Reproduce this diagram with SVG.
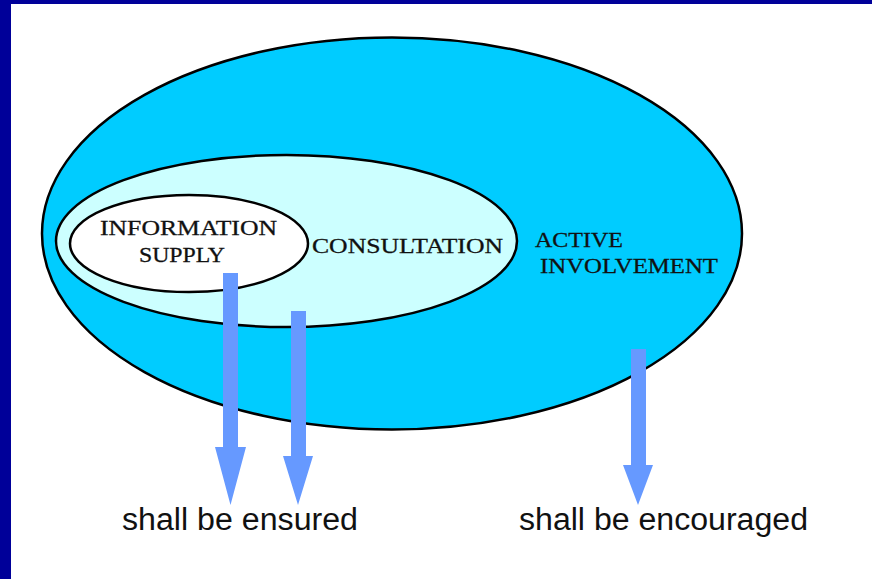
<svg xmlns="http://www.w3.org/2000/svg" width="872" height="579" viewBox="0 0 872 579">
<style>
.ell{stroke:#000;stroke-width:2.5}
.lbl{font-family:"Liberation Serif","Times New Roman",serif;font-size:22px;fill:#111;stroke:#111;stroke-width:0.3}
.cap{font-family:"Liberation Sans",Arial,sans-serif;font-size:31px;fill:#111}
.arr{fill:#6699FF}
</style>
<rect x="0" y="0" width="872" height="579" fill="#fff"/>
<rect x="0" y="0" width="872" height="4" fill="#000099"/>
<rect x="0" y="0" width="11" height="579" fill="#000099"/>
<g id="active-involvement">
<ellipse class="ell" cx="392" cy="233.5" rx="350" ry="196" fill="#00CCFF"/>
<text class="lbl" x="535" y="247" textLength="88" lengthAdjust="spacingAndGlyphs">ACTIVE</text>
<text class="lbl" x="540" y="273" textLength="178" lengthAdjust="spacingAndGlyphs">INVOLVEMENT</text>
</g>
<g id="consultation">
<ellipse class="ell" cx="286.5" cy="241" rx="230.5" ry="86" fill="#CCFFFF"/>
<text class="lbl" x="312" y="253" textLength="191" lengthAdjust="spacingAndGlyphs">CONSULTATION</text>
</g>
<g id="information-supply">
<ellipse class="ell" cx="189" cy="243.5" rx="119" ry="48.5" fill="#fff"/>
<text class="lbl" x="100" y="235" textLength="177" lengthAdjust="spacingAndGlyphs">INFORMATION</text>
<text class="lbl" x="139" y="262" textLength="86" lengthAdjust="spacingAndGlyphs">SUPPLY</text>
</g>
<g id="connectors">
<polygon class="arr" points="223,273 238,273 238,447 246,447 230.5,505 215,447 223,447"/>
<polygon class="arr" points="291,311 306,311 306,456 313,456 298,505 283,456 291,456"/>
<polygon class="arr" points="631,349 646,349 646,465 653,465 638,505 623,465 631,465"/>
</g>
<g id="ensured">
<text class="cap" x="122" y="530" textLength="236" lengthAdjust="spacingAndGlyphs">shall be ensured</text>
</g>
<g id="encouraged">
<text class="cap" x="519" y="530" textLength="289" lengthAdjust="spacingAndGlyphs">shall be encouraged</text>
</g>
</svg>
